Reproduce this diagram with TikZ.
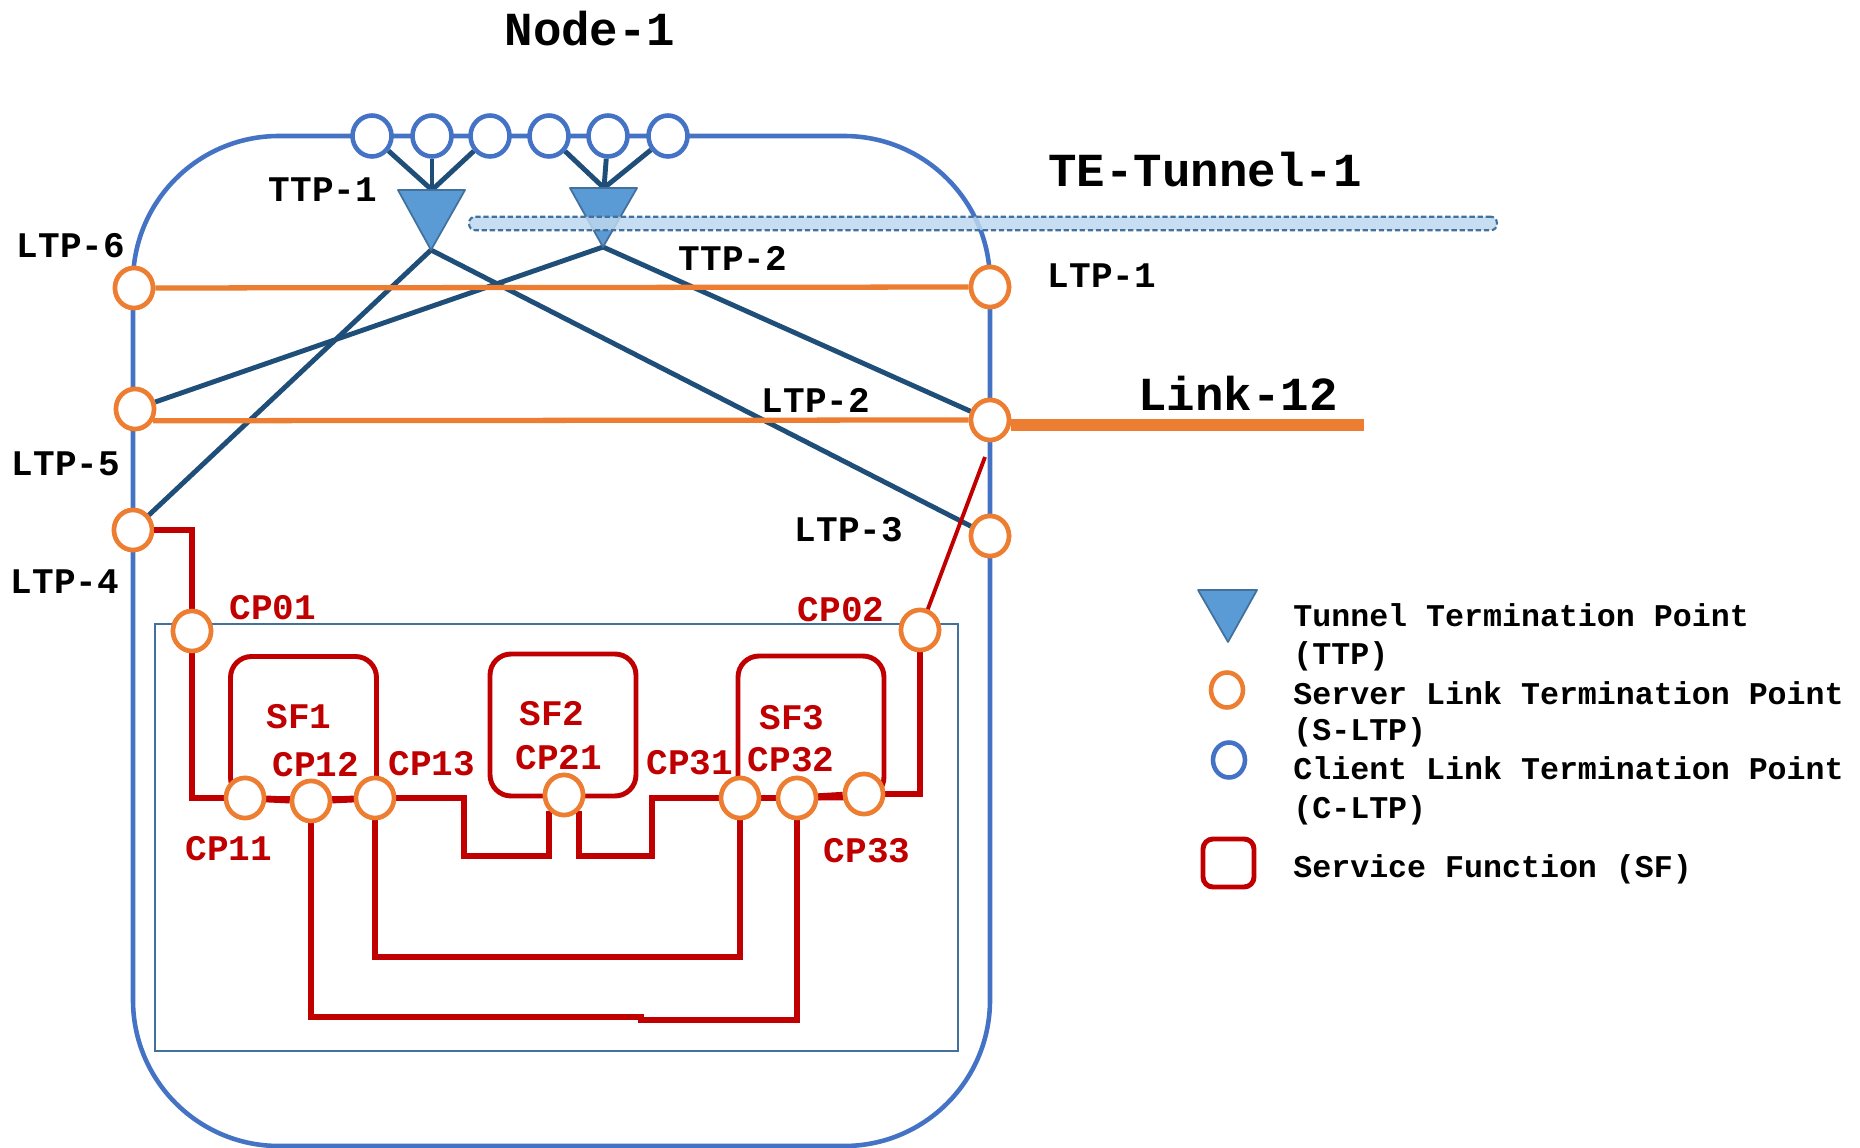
\documentclass[tikz,border=0pt]{standalone}
\usepackage{fontspec}
\newfontfamily\lmono{Liberation Mono}
\usetikzlibrary{shapes.geometric}
\definecolor{cblue}{HTML}{4472C4}
\definecolor{corange}{HTML}{ED7D31}
\definecolor{cdark}{HTML}{1F4E79}
\definecolor{cred}{HTML}{C00000}
\definecolor{ctri}{HTML}{5B9BD5}
\definecolor{ctriedge}{HTML}{41719C}
\definecolor{cbar}{HTML}{BDD7EE}
\begin{document}
\begin{tikzpicture}[x=0.02cm,y=-0.02cm,
  sltp/.style={ellipse, draw=corange, line width=2.6pt, fill=white, minimum width=0.76cm, minimum height=0.8cm, inner sep=0pt},
  cltp/.style={ellipse, draw=cblue, line width=2.6pt, fill=white, minimum width=0.78cm, minimum height=0.82cm, inner sep=0pt},
  lbl/.style={font=\lmono\bfseries\fontsize{20.5}{24}\selectfont, inner sep=0pt, text height=13.5pt, text depth=0pt},
  redlbl/.style={lbl, text=cred},
  title/.style={font=\lmono\bfseries\fontsize{27}{32}\selectfont, inner sep=0pt, text height=17.8pt, text depth=0pt},
  leg/.style={font=\lmono\bfseries\fontsize{18}{22}\selectfont, anchor=west, inner sep=0pt, text height=11.9pt, text depth=0pt},
  lnk/.style={draw=cdark, line width=2.8pt},
  olink/.style={draw=corange, line width=3pt},
  redpath/.style={draw=cred, line width=3.9pt},
  sfbox/.style={draw=cred, line width=2.8pt, rounded corners=0.42cm, minimum width=2.92cm, minimum height=2.84cm, inner sep=0pt},
  ttp/.style={fill=ctri, draw=ctriedge, line width=1pt, line join=round},
  tunnelbar/.style={draw=ctriedge, line width=1.2pt, dash pattern=on 3pt off 1.6pt, fill=cbar, fill opacity=0.85, rounded corners=0.12cm, minimum width=20.56cm, minimum height=0.27cm, inner sep=0pt}
]
\useasboundingbox (0,0) rectangle (1860,1148);

% title
\node[title] (node1) at (590,30) {Node-1};

% node outline
\draw[cblue, line width=2.6pt, rounded corners=2.92cm] (133,136) rectangle (990,1146);

% inner rectangle
\draw[ctriedge, line width=1.4pt] (155,624) rectangle (958,1051);

% client LTPs
\foreach \i/\x in {1/372,2/432,3/490,4/549,5/608,6/668}
  \node[cltp] (c\i) at (\x,136) {};

% TTPs
\coordinate (t1top) at (432,190);
\coordinate (t1) at (431,250);
\coordinate (t2top) at (604,188);
\coordinate (t2) at (603,247);
\foreach \i in {1,2,3} \draw[lnk] (c\i) -- (t1top);
\foreach \i in {4,5,6} \draw[lnk] (c\i) -- (t2top);

% server LTPs
\node[sltp] (LTP6) at (134,288) {};
\node[sltp] (LTP1) at (990,287) {};
\node[sltp] (LTP5) at (135,409) {};
\node[sltp] (LTP2) at (990,420) {};
\node[sltp] (LTP4) at (133,530) {};
\node[sltp] (LTP3) at (990,536) {};

% cross connections
\draw[lnk] (t1) -- (LTP4);
\draw[lnk] (t1) -- (LTP3);
\draw[lnk] (t2) -- (LTP5);
\draw[lnk] (t2) -- (LTP2);

% orange links
\draw[olink] (LTP6) -- (LTP1);
\draw[olink] (LTP5.-33) -- (LTP2.west);
\coordinate (l12end) at (1364,425);
\draw[corange, line width=7pt] (LTP2.east |- l12end) -- (l12end);

% redraw LTPs on top
\foreach \x/\y in {134/288,990/287,135/409,990/420,133/530,990/536}
  \node[sltp] at (\x,\y) {};

% triangles
\draw[ttp] (398,190) -- (465,190) -- (t1) -- cycle;
\draw[ttp] (570,188) -- (637,188) -- (t2) -- cycle;

% tunnel
\node[tunnelbar] (tun) at (983,223.5) {};
\node[title] (tunlbl) at (1205,171) {TE-Tunnel-1};
\node[title] (linklbl) at (1238,395) {Link-12};

% labels
\node[lbl] (lt6) at (71,246) {LTP-6};
\node[lbl] (lt1) at (1102,276) {LTP-1};
\node[lbl] (lt5) at (66,464) {LTP-5};
\node[lbl] (lt2) at (816,401) {LTP-2};
\node[lbl] (lt4) at (65,582) {LTP-4};
\node[lbl] (lt3) at (849,530) {LTP-3};
\node[lbl] (tt1) at (323,190) {TTP-1};
\node[lbl] (tt2) at (733,259) {TTP-2};

% service functions
\node[sfbox] (SF1) at (303.5,727.5) {};
\node[sfbox] (SF2) at (563,725) {};
\node[sfbox] (SF3) at (811,727) {};
\node[redlbl] at (299,717) {SF1};
\node[redlbl] at (552,714) {SF2};
\node[redlbl] at (792,718) {SF3};

% connection points
\node[sltp] (CP01) at (192,631) {};
\node[sltp] (CP02) at (920,630) {};
\node[sltp] (CP11) at (245,798) {};
\node[sltp] (CP12) at (311,801) {};
\node[sltp] (CP13) at (375,798) {};
\node[sltp] (CP21) at (564,795) {};
\node[sltp] (CP31) at (740,798) {};
\node[sltp] (CP32) at (797,798) {};
\node[sltp] (CP33) at (864,794) {};

% red paths
\coordinate (rs) at (985,457);
\draw[cred, line width=2.2pt] (rs) -- (CP02);
\draw[redpath] (LTP4.east) -| (CP01.north);
\draw[redpath] (CP01.south) |- (CP11.west);
\draw[redpath] (CP11) -- (CP12);
\draw[redpath] (CP12) -- (CP13);
\coordinate (a1) at (464,856);
\draw[redpath] (CP13.east) -| (a1) -| (CP21.south west);
\coordinate (b2) at (652,856);
\draw[redpath] (CP21.south east) |- (b2) |- (CP31.west);
\coordinate (c1) at (740,957);
\draw[redpath] (CP13.south) |- (CP31.south |- c1) -- (CP31.south);
\coordinate (d1) at (641,1017);
\coordinate (d2) at (641,1020);
\draw[redpath] (CP12.south) |- (d1) -- (d2) -| (CP32.south);
\draw[redpath] (CP31) -- (CP32);
\draw[redpath] (CP32) -- (CP33);
\draw[redpath] (CP33.east) -| (CP02.south);

% redraw CPs on top
\foreach \x/\y in {192/631,920/630,245/798,311/801,375/798,564/795,740/798,797/798,864/794}
  \node[sltp] at (\x,\y) {};

% CP labels
\node[redlbl] at (273,608) {CP01};
\node[redlbl] at (841,610) {CP02};
\node[redlbl] at (229,849) {CP11};
\node[redlbl] at (316,765) {CP12};
\node[redlbl] at (432,764) {CP13};
\node[redlbl] at (559,758) {CP21};
\node[redlbl] at (690,763) {CP31};
\node[redlbl] at (791,760) {CP32};
\node[redlbl] at (867,851) {CP33};

% legend
\draw[ttp] (1198,590) -- (1257,590) -- (1228,642) -- cycle;
\node[leg] (lg1) at (1293,616) {Tunnel Termination Point};
\node[leg] (lg1b) at (1293,654) {(TTP)};
\node[sltp, minimum width=0.64cm, minimum height=0.7cm] (lgo) at (1227,690) {};
\node[leg] (lg2) at (1293,694) {Server Link Termination Point};
\node[leg] (lg2b) at (1293,730) {(S-LTP)};
\node[cltp, minimum width=0.64cm, minimum height=0.7cm] (lgb) at (1229,760) {};
\node[leg] (lg3) at (1293,769) {Client Link Termination Point};
\node[leg] (lg3b) at (1293,808) {(C-LTP)};
\draw[draw=cred, line width=2.8pt, rounded corners=0.2cm] (1203,839) rectangle (1254,887);
\node[leg] (lg4) at (1293,867) {Service Function (SF)};
\end{tikzpicture}
\end{document}
